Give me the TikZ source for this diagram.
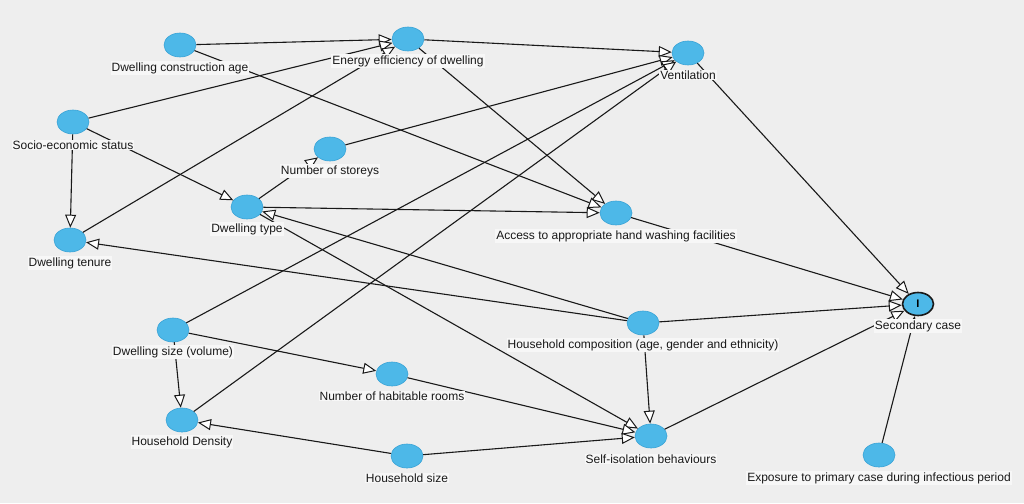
\documentclass[tikz,border=0pt]{standalone}
\usepackage{fontspec}
\setmainfont{Liberation Sans}
\usetikzlibrary{arrows.meta,shapes.geometric}
\definecolor{bg}{HTML}{EEEEEE}
\definecolor{nodeblue}{HTML}{4DB8E8}
\definecolor{nodeedge}{HTML}{3AA3D6}
\definecolor{labbg}{HTML}{F7F7F7}
\begin{document}
\begin{tikzpicture}[x=1pt,y=-1pt,
  var/.style={ellipse,fill=nodeblue,draw=nodeedge,line width=0.6pt,minimum width=32pt,minimum height=24pt,inner sep=0pt},
  outcome/.style={ellipse,fill=nodeblue,draw=black!90,line width=1.6pt,minimum width=31pt,minimum height=23pt,inner sep=0pt,font=\bfseries\fontsize{11}{11}\selectfont},
  lab/.style={fill=labbg,inner sep=1pt,font=\fontsize{12}{12}\selectfont,text=black!90},
  arr/.style={draw=black!90,line width=1.1pt,-{Triangle[length=13pt,width=11pt,fill=white,line width=1pt]}}
]
\fill[bg] (0,0) rectangle (1024,503);
\useasboundingbox (0,0) rectangle (1024,503);
% variable nodes
\node[var] (DCA) at (180,45) {};
\node[var] (EE) at (408,39) {};
\node[var] (V) at (688,53) {};
\node[var] (SES) at (73,122) {};
\node[var] (NS) at (330,149) {};
\node[var] (DT) at (247,207) {};
\node[var] (AHW) at (616,213) {};
\node[var] (DTen) at (70,240) {};
\node[outcome] (SC) at (918,304) {I};
\node[var] (HC) at (643,323) {};
\node[var] (DS) at (173,330) {};
\node[var] (NHR) at (392,374) {};
\node[var] (HD) at (182,420) {};
\node[var] (HS) at (407,456) {};
\node[var] (SIB) at (651,436) {};
\node[var] (EX) at (879,455) {};
% edges
\draw[arr] (DCA) -- (EE);
\draw[arr] (DCA) -- (AHW);
\draw[arr] (SES) -- (EE);
\draw[arr] (SES) -- (DT);
\draw[arr] (SES) -- (DTen);
\draw[arr] (DTen) -- (EE);
\draw[arr] (EE) -- (V);
\draw[arr] (EE) -- (AHW);
\draw[arr] (V) -- (SC);
\draw[arr] (NS) -- (V);
\draw[arr] (DT) -- (NS);
\draw[arr] (DT) -- (AHW);
\draw[arr] (DT) -- (SIB);
\draw[arr] (AHW) -- (SC);
\draw[arr] (HC) -- (DTen);
\draw[arr] (HC) -- (DT);
\draw[arr] (HC) -- (SC);
\draw[arr] (HC) -- (SIB);
\draw[arr] (DS) -- (V);
\draw[arr] (DS) -- (NHR);
\draw[arr] (DS) -- (HD);
\draw[arr] (HD) -- (V);
\draw[arr] (NHR) -- (SIB);
\draw[arr] (HS) -- (HD);
\draw[arr] (HS) -- (SIB);
\draw[arr] (SIB) -- (SC);
\draw[arr] (EX) -- (SC);
% labels
\node[lab] (lDCA) at (180,68) {Dwelling construction age};
\node[lab] (lEE) at (408,61) {Energy efficiency of dwelling};
\node[lab] (lV) at (688,75) {Ventilation};
\node[lab] (lSES) at (73,145) {Socio-economic status};
\node[lab] (lNS) at (330,171) {Number of storeys};
\node[lab] (lDT) at (247,229) {Dwelling type};
\node[lab] (lAHW) at (616,236) {Access to appropriate hand washing facilities};
\node[lab] (lDTen) at (70,263) {Dwelling tenure};
\node[lab] (lSC) at (918,326) {Secondary case};
\node[lab] (lHC) at (643,345) {Household composition (age, gender and ethnicity)};
\node[lab] (lDS) at (173,352) {Dwelling size (volume)};
\node[lab] (lNHR) at (392,396) {Number of habitable rooms};
\node[lab] (lHD) at (182,442) {Household Density};
\node[lab] (lHS) at (407,478) {Household size};
\node[lab] (lSIB) at (651,459) {Self-isolation behaviours};
\node[lab] (lEX) at (879,478) {Exposure to primary case during infectious period};
\end{tikzpicture}
\end{document}
